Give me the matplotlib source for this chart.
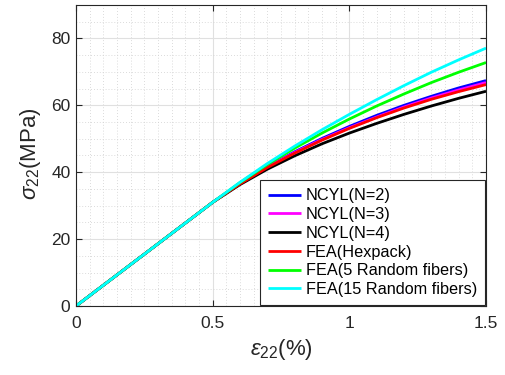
import matplotlib
matplotlib.use("Agg")
import matplotlib.pyplot as plt
from matplotlib.ticker import MultipleLocator

strain = [0, 0.25, 0.5, 0.6, 0.7, 0.8, 0.9, 1.0, 1.1, 1.2, 1.3, 1.4, 1.5]
ncyl2 = [0, 15.5, 31, 36.6, 41.6, 46.1, 50.1, 53.7, 57.0, 60.0, 62.7, 65.2, 67.4]
ncyl3 = [0, 15.5, 31, 36.6, 41.5, 45.9, 49.8, 53.3, 56.5, 59.5, 62.2, 64.6, 66.8]
ncyl4 = [0, 15.5, 31, 36.3, 40.9, 44.9, 48.5, 51.7, 54.6, 57.3, 59.8, 62.1, 64.2]
fea_hex = [0, 15.5, 31, 36.5, 41.4, 45.7, 49.6, 53.1, 56.3, 59.2, 61.8, 64.1, 66.2]
fea_5 = [0, 15.5, 31, 36.9, 42.3, 47.2, 51.7, 55.9, 59.8, 63.4, 66.8, 69.9, 72.8]
fea_15 = [0, 15.5, 31, 37.0, 42.6, 47.8, 52.7, 57.3, 61.7, 65.9, 69.9, 73.6, 77.1]

labels = ["NCYL(N=2)", "NCYL(N=3)", "NCYL(N=4)", "FEA(Hexpack)",
          "FEA(5 Random fibers)", "FEA(15 Random fibers)"]
series = [ncyl2, ncyl3, ncyl4, fea_hex, fea_5, fea_15]
colors = ["#0000ff", "#ff00ff", "#000000", "#ff0000", "#00ff00", "#00ffff"]

plt.rcParams['font.family'] = ['Liberation Sans', 'DejaVu Sans']
plt.rcParams['mathtext.fontset'] = 'custom'
plt.rcParams['mathtext.rm'] = 'Liberation Sans'
plt.rcParams['mathtext.it'] = 'Liberation Sans:italic'

fig = plt.figure(figsize=(5.05, 3.75), dpi=100)
ax = fig.add_axes([0.1505, 0.184, 0.8119, 0.8027])

for y, c, l in zip(series, colors, labels):
    ax.plot(strain, y, color=c, lw=2.0, label=l, solid_capstyle='butt')

ax.set_xlim(0, 1.5)
ax.set_ylim(0, 90)
ax.yaxis.set_major_locator(MultipleLocator(20))
ax.xaxis.set_minor_locator(MultipleLocator(0.05))
ax.yaxis.set_minor_locator(MultipleLocator(5))
ax.set_xticks([0, 0.5, 1, 1.5])
ax.set_xticklabels(["0", "0.5", "1", "1.5"])

ax.grid(which='major', color='#e0e0e0', lw=0.8, ls='-')
ax.grid(which='minor', color='#cfcfcf', lw=0.6, ls=(0, (1, 2.5)))
ax.set_axisbelow(True)

for s in ax.spines.values():
    s.set_color('#262626')
    s.set_linewidth(0.8)
ax.tick_params(which='both', direction='in', top=True, right=True, colors='#262626',
               labelsize=12.5, labelcolor='#262626')
ax.tick_params(which='major', length=4)
ax.tick_params(which='minor', length=0)
ax.tick_params(axis='x', pad=7)
ax.tick_params(axis='y', pad=4)

ax.set_xlabel(r'$\epsilon_{22}$(%)', fontsize=16, color='#262626')
ax.set_ylabel(r'$\sigma_{22}$(MPa)', fontsize=16, color='#262626')
ax.xaxis.set_label_coords(0.5, -0.103)
ax.yaxis.set_label_coords(-0.08, 0.505)

leg = ax.legend(loc='lower right', fontsize=11.7, frameon=True, fancybox=False,
                handlelength=2.0, handletextpad=0.3, labelspacing=0.23,
                borderpad=0.5, borderaxespad=0.05)
leg.get_frame().set_edgecolor('#262626')
leg.get_frame().set_linewidth(0.8)
leg.get_frame().set_alpha(1)

fig.savefig("out.png", dpi=100)
